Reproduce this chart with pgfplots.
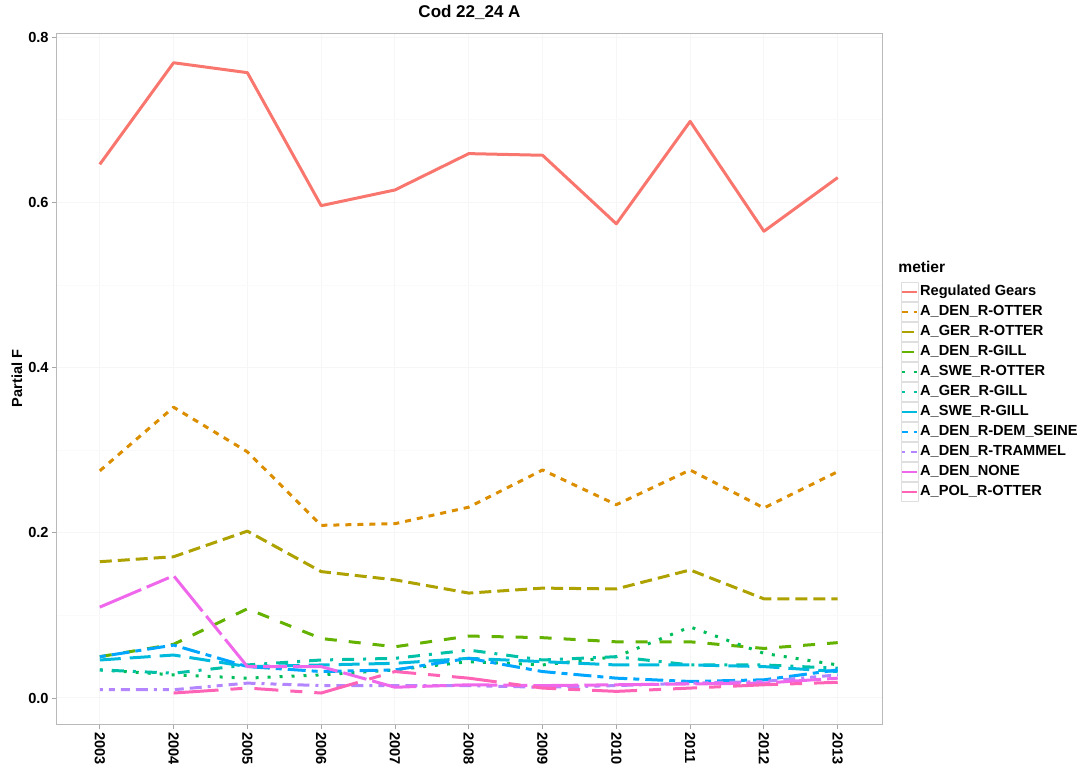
\documentclass[border=0pt]{standalone}
\usepackage{pgfplots}
\pgfplotsset{compat=1.18}
\usepackage{fontspec}
\setmainfont{Liberation Sans}

\definecolor{c1}{HTML}{F8766D}
\definecolor{c2}{HTML}{DB8E00}
\definecolor{c3}{HTML}{AEA200}
\definecolor{c4}{HTML}{64B200}
\definecolor{c5}{HTML}{00BD5C}
\definecolor{c6}{HTML}{00C1A7}
\definecolor{c7}{HTML}{00BADE}
\definecolor{c8}{HTML}{00A6FF}
\definecolor{c9}{HTML}{B385FF}
\definecolor{c10}{HTML}{EF67EB}
\definecolor{c11}{HTML}{FF63B6}

% ggplot linetypes, unit = 1.5pt
\tikzset{
  lt1/.style={solid},
  lt2/.style={dash pattern=on 3pt off 3pt},
  lt3/.style={dash pattern=on 6pt off 3pt},
  lt4/.style={dash pattern=on 6pt off 6pt},
  lt5/.style={dash pattern=on 1.5pt off 4.5pt},
  lt6/.style={dash pattern=on 1.5pt off 4.5pt on 6pt off 4.5pt},
  lt7/.style={dash pattern=on 10.5pt off 4.5pt},
  lt8/.style={dash pattern=on 3pt off 3pt on 9pt off 3pt},
  lt9/.style={dash pattern=on 1.5pt off 3pt on 3pt off 3pt on 4.5pt off 3pt on 6pt off 3pt},
  lt10/.style={dash pattern=on 22.5pt off 3pt on 12pt off 3pt},
  lt11/.style={dash pattern=on 22.5pt off 6pt on 6pt off 6pt on 12pt off 6pt on 6pt off 6pt},
}

\begin{document}
\begin{tikzpicture}
\useasboundingbox (0,0) rectangle (545pt,383.5pt);
\begin{axis}[
  at={(28.5pt,21.5pt)}, anchor=south west,
  scale only axis, width=412.5pt, height=345.5pt,
  xmin=2002.42, xmax=2013.6, ymin=-0.0315, ymax=0.805,
  xtick={2003,...,2013}, ytick={0,0.2,0.4,0.6,0.8},
  minor ytick={0.1,0.3,0.5,0.7},
  x tick label style={/pgf/number format/1000 sep={}, rotate=-90, anchor=west},
  y tick label style={/pgf/number format/fixed, /pgf/number format/precision=1,
    /pgf/number format/fixed zerofill},
  /pgf/number format/assume math mode=true,
  ticklabel style={font=\bfseries\fontsize{7.3}{8}\selectfont, inner sep=1.5pt},
  tick align=outside, tick pos=left, major tick length=2.5pt, minor tick length=0pt,
  tick style={gray!70, line width=0.4pt},
  axis line style={gray!55, line width=0.5pt},
  grid=both,
  major grid style={gray!7, line width=0.5pt},
  minor grid style={gray!4, line width=0.3pt},
  title={Cod 22\_24 A},
  title style={font=\bfseries\fontsize{8.5}{10}\selectfont, yshift=-3pt},
  ylabel={Partial F},
  ylabel style={font=\bfseries\fontsize{7.3}{8}\selectfont, yshift=-2pt},
  every axis plot/.append style={line width=1.5pt, line join=round},
  legend style={at={(1.022,0.64)}, anchor=north west, draw=none, fill=none,
    font=\bfseries\fontsize{7.3}{8}\selectfont, row sep=0pt, inner sep=0pt,
    nodes={inner sep=0.9pt}},
  legend cell align=left,
  legend image code/.code={
    \draw[draw=gray!25, solid, line width=0.4pt, fill=white] (0pt,-4.8pt) rectangle (8.5pt,4.8pt);
    \draw[#1, line width=1.2pt] (0.5pt,0pt) -- (8pt,0pt);
  },
]
\addplot[c1, lt1] coordinates {
 (2003,0.646) (2004,0.769) (2005,0.757) (2006,0.596) (2007,0.615) (2008,0.659)
 (2009,0.657) (2010,0.574) (2011,0.698) (2012,0.565) (2013,0.630)};
\addlegendentry{Regulated Gears}
\addplot[c2, lt2] coordinates {
 (2003,0.275) (2004,0.352) (2005,0.298) (2006,0.209) (2007,0.211) (2008,0.231)
 (2009,0.276) (2010,0.234) (2011,0.276) (2012,0.230) (2013,0.274)};
\addlegendentry{A\_DEN\_R-OTTER}
\addplot[c3, lt3] coordinates {
 (2003,0.165) (2004,0.171) (2005,0.202) (2006,0.153) (2007,0.143) (2008,0.127)
 (2009,0.133) (2010,0.132) (2011,0.155) (2012,0.120) (2013,0.120)};
\addlegendentry{A\_GER\_R-OTTER}
\addplot[c4, lt4] coordinates {
 (2003,0.050) (2004,0.065) (2005,0.108) (2006,0.072) (2007,0.062) (2008,0.075)
 (2009,0.073) (2010,0.068) (2011,0.068) (2012,0.060) (2013,0.067)};
\addlegendentry{A\_DEN\_R-GILL}
\addplot[c5, lt5] coordinates {
 (2003,0.034) (2004,0.028) (2005,0.024) (2006,0.028) (2007,0.034) (2008,0.044)
 (2009,0.040) (2010,0.050) (2011,0.086) (2012,0.054) (2013,0.040)};
\addlegendentry{A\_SWE\_R-OTTER}
\addplot[c6, lt6] coordinates {
 (2003,0.034) (2004,0.030) (2005,0.040) (2006,0.046) (2007,0.048) (2008,0.058)
 (2009,0.046) (2010,0.050) (2011,0.040) (2012,0.040) (2013,0.036)};
\addlegendentry{A\_GER\_R-GILL}
\addplot[c7, lt7] coordinates {
 (2003,0.046) (2004,0.052) (2005,0.038) (2006,0.040) (2007,0.042) (2008,0.048)
 (2009,0.044) (2010,0.040) (2011,0.040) (2012,0.038) (2013,0.032)};
\addlegendentry{A\_SWE\_R-GILL}
\addplot[c8, lt8] coordinates {
 (2003,0.050) (2004,0.064) (2005,0.038) (2006,0.032) (2007,0.034) (2008,0.048)
 (2009,0.032) (2010,0.024) (2011,0.020) (2012,0.022) (2013,0.034)};
\addlegendentry{A\_DEN\_R-DEM\_SEINE}
\addplot[c9, lt9] coordinates {
 (2003,0.010) (2004,0.010) (2005,0.018) (2006,0.015) (2007,0.015) (2008,0.015)
 (2009,0.013) (2010,0.015) (2011,0.018) (2012,0.020) (2013,0.028)};
\addlegendentry{A\_DEN\_R-TRAMMEL}
\addplot[c10, lt10] coordinates {
 (2003,0.110) (2004,0.148) (2005,0.038) (2006,0.038) (2007,0.013) (2008,0.016)
 (2009,0.015) (2010,0.016) (2011,0.017) (2012,0.018) (2013,0.024)};
\addlegendentry{A\_DEN\_NONE}
\addplot[c11, lt11] coordinates {
 (2004,0.006) (2005,0.012) (2006,0.006) (2007,0.032) (2008,0.024)
 (2009,0.012) (2010,0.008) (2011,0.012) (2012,0.016) (2013,0.019)};
\addlegendentry{A\_POL\_R-OTTER}
\end{axis}
\node[anchor=west, font=\bfseries\fontsize{7.8}{9}\selectfont, inner sep=0pt] at (449pt,250pt) {metier};
\end{tikzpicture}
\end{document}
